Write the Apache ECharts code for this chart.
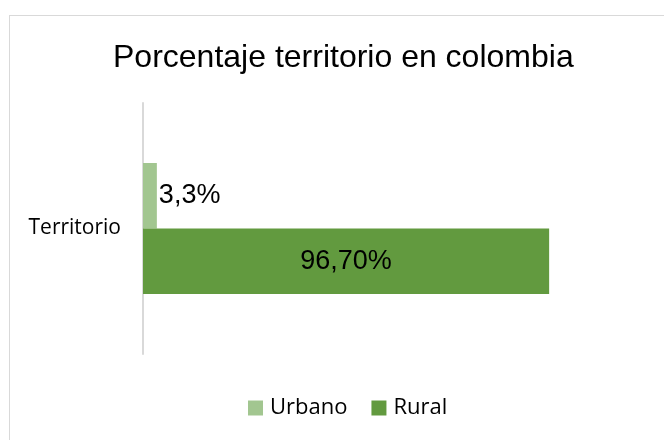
<!DOCTYPE html>
<html>
<head>
<meta charset="utf-8">
<script src="https://cdn.jsdelivr.net/npm/echarts@6/dist/echarts.min.js"></script>
<style>
html,body{margin:0;padding:0;background:#fff;}
#wrap{position:relative;width:664px;height:440px;overflow:hidden;}
#frame{position:absolute;left:9px;top:15px;width:700px;height:500px;border-left:1px solid #d9d9d9;border-top:1px solid #d9d9d9;}
#chart{position:absolute;left:0;top:0;width:664px;height:440px;}
</style>
</head>
<body>
<div id="wrap"><div id="frame"></div><div id="chart"></div></div>
<script>
const titleText = 'Porcentaje territorio en colombia';
const categories = ['Territorio'];
const seriesNames = ['Urbano', 'Rural'];
const urbanoValues = [3.3];
const ruralValues = [96.7];
const urbanoLabels = ['3,3%'];
const ruralLabels = ['96,70%'];

const chart = echarts.init(document.getElementById('chart'), null, {renderer: 'canvas'});
chart.setOption({
  backgroundColor: 'transparent',
  animation: false,
  title: {
    text: titleText,
    left: 108,
    top: 37,
    textStyle: {fontFamily: 'Liberation Sans', fontSize: 32, fontWeight: 'normal', color: '#000'}
  },
  legend: {
    data: seriesNames,
    bottom: 16,
    left: 243,
    itemWidth: 15,
    itemHeight: 15,
    itemGap: 24,
    icon: 'rect',
    textStyle: {fontFamily: 'Open Sans', fontSize: 22, color: '#000', padding: [0,0,0,2]}
  },
  grid: {left: 143, right: 17, top: 103, bottom: 86, containLabel: false},
  xAxis: {
    type: 'value', min: 0, max: 120,
    axisLine: {show: false}, axisTick: {show: false}, axisLabel: {show: false}, splitLine: {show: false}
  },
  yAxis: {
    type: 'category', data: categories,
    axisLine: {show: true, lineStyle: {color: '#d9d9d9', width: 2}},
    axisTick: {show: false},
    axisLabel: {fontFamily: 'Open Sans', fontSize: 21, color: '#000', margin: 22, padding: [4,0,0,0]}
  },
  series: [
    {
      name: 'Urbano', type: 'bar', data: urbanoValues,
      barGap: '0%', barCategoryGap: '47.8%',
      itemStyle: {color: '#a2c690'},
      label: {show: true, position: 'right', distance: 2, fontFamily: 'Liberation Sans', fontSize: 27, color: '#000',
        padding: [3,0,0,0], formatter: p => urbanoLabels[p.dataIndex]}
    },
    {
      name: 'Rural', type: 'bar', data: ruralValues,
      barGap: '0%', barCategoryGap: '47.8%',
      itemStyle: {color: '#629a3f'},
      label: {show: true, position: 'inside', fontFamily: 'Liberation Sans', fontSize: 27, color: '#000',
        padding: [3,0,0,0], formatter: p => ruralLabels[p.dataIndex]}
    }
  ]
});
</script>
</body>
</html>
